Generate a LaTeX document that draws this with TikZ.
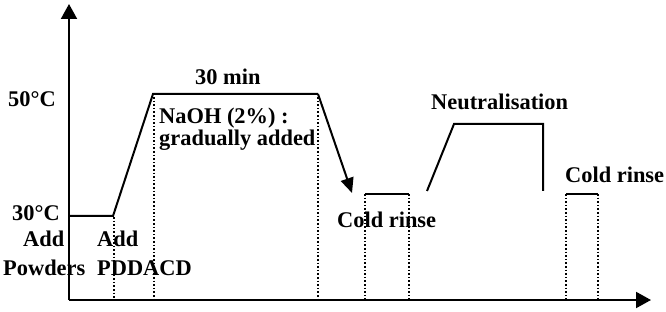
\documentclass[tikz,border=0pt]{standalone}
\usepackage{fontspec}
\setmainfont{Liberation Serif}
\usetikzlibrary{arrows.meta}
\begin{document}
\begin{tikzpicture}[x=1pt,y=-1pt,
  lbl/.style={anchor=base west,inner sep=0pt,font=\fontsize{22.4}{26}\selectfont\bfseries},
  axis/.style={line width=2pt,-{Triangle[length=15pt,width=16pt]}},
  proc/.style={line width=2pt},
  guide/.style={line width=1.6pt,dotted}]
\useasboundingbox (0,0) rectangle (666,312);
% axes
\coordinate (O) at (69,300);
\coordinate (ytip) at (69,4);
\coordinate (xtip) at (651,300);
\draw[axis] (O) -- (ytip);
\draw[axis] (O) -- (xtip);
% main profile
\coordinate (s0) at (69,216);
\coordinate (s1) at (113,216);
\coordinate (s2) at (153,94);
\coordinate (s3) at (318,94);
\coordinate (s4) at (352,193);
\draw[proc] (s0) -- (s1) -- (s2) -- (s3);
\draw[proc,-{Triangle[length=15pt,width=13pt]}] (s3) -- (s4);
% dotted guides
\coordinate (g1t) at (114,217); \coordinate (g1b) at (114,300);
\coordinate (g2t) at (154,97);  \coordinate (g2b) at (154,300);
\coordinate (g3t) at (318,97);  \coordinate (g3b) at (318,300);
\draw[guide] (g1t) -- (g1b);
\draw[guide] (g2t) -- (g2b);
\draw[guide] (g3t) -- (g3b);
% cold rinse 1
\coordinate (c1a) at (365,194); \coordinate (c1b) at (409,194);
\coordinate (c1c) at (365,300); \coordinate (c1d) at (409,300);
\draw[proc] (c1a) -- (c1b);
\draw[guide] (c1a) -- (c1c);
\draw[guide] (c1b) -- (c1d);
% neutralisation
\coordinate (n0) at (427,191);
\coordinate (n1) at (454,124);
\coordinate (n2) at (543,124);
\coordinate (n3) at (543,191);
\draw[proc] (n0) -- (n1) -- (n2) -- (n3);
% cold rinse 2
\coordinate (c2a) at (566,194); \coordinate (c2b) at (598,194);
\coordinate (c2c) at (566,300); \coordinate (c2d) at (598,300);
\draw[proc] (c2a) -- (c2b);
\draw[guide] (c2a) -- (c2c);
\draw[guide] (c2b) -- (c2d);
% labels
\node[lbl] (t50) at (8,107) {50°C};
\node[lbl] (t30) at (12,221) {30°C};
\node[lbl] (tadd1) at (23,247) {Add};
\node[lbl] (tpow) at (3,275) {Powders};
\node[lbl] (tadd2) at (97,247) {Add};
\node[lbl] (tpdd) at (97,275) {PDDACD};
\node[lbl] (tmin) at (195,85) {30 min};
\node[lbl] (tnaoh) at (159,124) {NaOH (2\%) :};
\node[lbl] (tgrad) at (159,146) {gradually added};
\node[lbl] (tcr1) at (337,228) {Cold rinse};
\node[lbl] (tneu) at (431,110) {Neutralisation};
\node[lbl] (tcr2) at (565,183) {Cold rinse};
\end{tikzpicture}
\end{document}
